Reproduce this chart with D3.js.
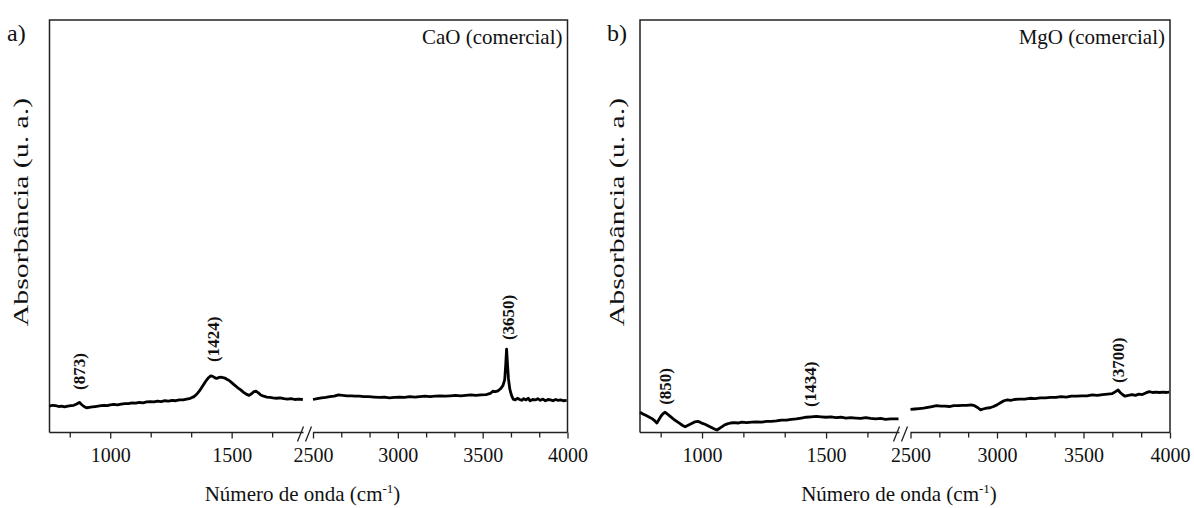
<!DOCTYPE html>
<html>
<head>
<meta charset="utf-8">
<script src="https://cdn.jsdelivr.net/npm/d3@7"></script>
<style>
  body { margin: 0; background: #fff; }
  svg { display: block; font-family: "Liberation Serif", "Times New Roman", serif; }
</style>
</head>
<body>
<div id="chart"></div>
<script>
// wavenumber (cm-1) and absorbance (a.u.)
const caoLowWn = [750, 762, 775, 788, 800, 812, 825, 838, 850, 862, 873, 882, 892, 902, 914, 926, 938, 950, 962, 975, 988, 1000, 1015, 1030, 1045, 1060, 1075, 1090, 1105, 1120, 1135, 1150, 1165, 1180, 1195, 1210, 1225, 1240, 1255, 1270, 1285, 1300, 1315, 1330, 1345, 1358, 1370, 1382, 1394, 1405, 1414, 1422, 1430, 1438, 1446, 1455, 1464, 1472, 1480, 1490, 1500, 1512, 1524, 1536, 1548, 1560, 1572, 1582, 1592, 1601, 1610, 1620, 1632, 1645, 1658, 1670, 1685, 1700, 1715, 1730, 1745, 1760, 1775, 1793];
const caoLowAbs = [0.064, 0.066, 0.065, 0.063, 0.064, 0.062, 0.064, 0.065, 0.066, 0.069, 0.073, 0.068, 0.063, 0.060, 0.061, 0.062, 0.063, 0.064, 0.065, 0.066, 0.065, 0.067, 0.068, 0.067, 0.069, 0.070, 0.070, 0.072, 0.071, 0.073, 0.072, 0.074, 0.075, 0.074, 0.076, 0.075, 0.077, 0.076, 0.078, 0.077, 0.079, 0.079, 0.081, 0.083, 0.087, 0.094, 0.103, 0.114, 0.125, 0.133, 0.137, 0.136, 0.133, 0.131, 0.133, 0.134, 0.133, 0.132, 0.129, 0.126, 0.121, 0.115, 0.109, 0.104, 0.098, 0.093, 0.090, 0.094, 0.099, 0.100, 0.096, 0.091, 0.088, 0.086, 0.085, 0.084, 0.083, 0.084, 0.082, 0.081, 0.082, 0.080, 0.081, 0.080];
const caoHighWn = [2500, 2525, 2550, 2575, 2600, 2625, 2650, 2675, 2700, 2725, 2750, 2775, 2800, 2830, 2860, 2890, 2920, 2950, 2980, 3010, 3040, 3070, 3100, 3130, 3160, 3190, 3220, 3250, 3280, 3310, 3340, 3370, 3400, 3430, 3460, 3490, 3520, 3545, 3560, 3575, 3590, 3605, 3620, 3630, 3636, 3641, 3646, 3652, 3660, 3670, 3680, 3692, 3705, 3718, 3730, 3742, 3755, 3768, 3780, 3795, 3810, 3825, 3840, 3855, 3870, 3885, 3900, 3915, 3930, 3945, 3960, 3975, 3995];
const caoHighAbs = [0.080, 0.082, 0.084, 0.085, 0.087, 0.088, 0.091, 0.090, 0.089, 0.089, 0.088, 0.088, 0.087, 0.087, 0.086, 0.085, 0.086, 0.084, 0.085, 0.086, 0.085, 0.087, 0.086, 0.087, 0.088, 0.087, 0.088, 0.089, 0.088, 0.089, 0.090, 0.089, 0.090, 0.091, 0.090, 0.091, 0.092, 0.095, 0.100, 0.099, 0.101, 0.106, 0.114, 0.128, 0.165, 0.202, 0.168, 0.130, 0.105, 0.090, 0.081, 0.079, 0.083, 0.080, 0.078, 0.082, 0.079, 0.083, 0.077, 0.080, 0.079, 0.082, 0.078, 0.081, 0.077, 0.080, 0.079, 0.077, 0.080, 0.078, 0.079, 0.077, 0.078];

const mgoLowWn = [750, 762, 775, 788, 800, 810, 818, 826, 835, 843, 850, 858, 868, 878, 888, 898, 910, 922, 932, 942, 952, 962, 972, 982, 992, 1002, 1012, 1022, 1032, 1042, 1052, 1060, 1068, 1078, 1090, 1102, 1115, 1130, 1145, 1160, 1180, 1200, 1220, 1240, 1260, 1280, 1300, 1320, 1340, 1360, 1380, 1400, 1420, 1440, 1460, 1480, 1500, 1520, 1540, 1560, 1580, 1600, 1620, 1640, 1660, 1680, 1700, 1720, 1740, 1760, 1792];
const mgoLowAbs = [0.049, 0.045, 0.041, 0.037, 0.033, 0.028, 0.023, 0.031, 0.040, 0.046, 0.049, 0.046, 0.041, 0.036, 0.031, 0.027, 0.022, 0.017, 0.014, 0.017, 0.020, 0.023, 0.026, 0.027, 0.025, 0.022, 0.020, 0.017, 0.014, 0.011, 0.008, 0.006, 0.009, 0.013, 0.018, 0.021, 0.023, 0.024, 0.023, 0.025, 0.024, 0.025, 0.026, 0.025, 0.027, 0.027, 0.028, 0.030, 0.030, 0.032, 0.033, 0.035, 0.037, 0.038, 0.039, 0.038, 0.037, 0.038, 0.036, 0.037, 0.035, 0.036, 0.035, 0.034, 0.036, 0.034, 0.033, 0.034, 0.032, 0.033, 0.033];
const mgoHighWn = [2500, 2525, 2550, 2575, 2600, 2625, 2650, 2675, 2700, 2725, 2750, 2775, 2800, 2825, 2850, 2870, 2890, 2905, 2920, 2940, 2960, 2980, 3000, 3020, 3040, 3060, 3080, 3100, 3130, 3160, 3190, 3220, 3250, 3280, 3310, 3340, 3370, 3400, 3430, 3460, 3490, 3520, 3550, 3580, 3610, 3640, 3665, 3685, 3700, 3712, 3725, 3740, 3760, 3780, 3800, 3820, 3840, 3860, 3880, 3900, 3920, 3940, 3960, 3980, 3995];
const mgoHighAbs = [0.056, 0.057, 0.058, 0.059, 0.061, 0.063, 0.065, 0.064, 0.064, 0.063, 0.065, 0.065, 0.066, 0.066, 0.067, 0.065, 0.060, 0.055, 0.057, 0.059, 0.060, 0.063, 0.067, 0.072, 0.077, 0.079, 0.078, 0.080, 0.081, 0.081, 0.083, 0.082, 0.084, 0.084, 0.085, 0.085, 0.087, 0.086, 0.088, 0.088, 0.089, 0.089, 0.091, 0.090, 0.092, 0.093, 0.094, 0.099, 0.103, 0.097, 0.092, 0.088, 0.090, 0.092, 0.090, 0.093, 0.092, 0.096, 0.099, 0.097, 0.098, 0.097, 0.098, 0.097, 0.098];

const caoPeaks = [873, 1424, 3650];
const caoPeakAbs = [0.103, 0.171, 0.224];
const mgoPeaks = [850, 1434, 3700];
const mgoPeakAbs = [0.067, 0.062, 0.12];

const lowMajor = [1000, 1500];
const lowMinor = [833.33, 1166.67, 1333.33, 1666.67];
const highMajor = [2500, 3000, 3500, 4000];
const highMinor = [2666.67, 2833.33, 3166.67, 3333.33, 3666.67, 3833.33];

const width = 1194;
const height = 508;

const svg = d3.select("#chart")
  .append("svg")
  .attr("width", width)
  .attr("height", height);

const panels = [
  {
    tag: "a)", name: "CaO (comercial)", tagX: 7, titleX: 28,
    left: 49.5, breakL: 304.5, breakR: 313, right: 567.5,
    low: d3.zip(caoLowWn, caoLowAbs), high: d3.zip(caoHighWn, caoHighAbs),
    peaks: caoPeaks, peakAbs: caoPeakAbs
  },
  {
    tag: "b)", name: "MgO (comercial)", tagX: 607, titleX: 624,
    left: 640, breakL: 900.5, breakR: 910.5, right: 1170,
    low: d3.zip(mgoLowWn, mgoLowAbs), high: d3.zip(mgoHighWn, mgoHighAbs),
    peaks: mgoPeaks, peakAbs: mgoPeakAbs
  }
];

const plotTop = 20;
const plotBottom = 432.5;
const y = d3.scaleLinear().domain([0, 1]).range([plotBottom, plotTop]);

panels.forEach((p) => {
  const g = svg.append("g");
  const xLow = d3.scaleLinear().domain([750, 1800]).range([p.left, p.breakL]);
  const xHigh = d3.scaleLinear().domain([2500, 4000]).range([p.breakR, p.right]);

  // frame (left, top, right)
  g.append("path")
    .attr("d", `M${p.left},${plotBottom}V${plotTop}H${p.right}V${plotBottom}`)
    .attr("fill", "none")
    .attr("stroke", "#222")
    .attr("stroke-width", 1.5);

  // broken x axis
  [[xLow, lowMajor, lowMinor, [p.left, p.breakL - 1]], [xHigh, highMajor, highMinor, [p.breakR, p.right]]].forEach(([x, major, minor, span]) => {
    g.append("line")
      .attr("x1", span[0]).attr("x2", span[1])
      .attr("y1", plotBottom).attr("y2", plotBottom)
      .attr("stroke", "#222").attr("stroke-width", 1.5);

    g.append("g")
      .attr("transform", `translate(0,${plotBottom})`)
      .call(d3.axisBottom(x).tickValues(minor).tickSize(5).tickFormat(""))
      .call((a) => a.select(".domain").remove())
      .call((a) => a.selectAll("line").attr("stroke", "#222").attr("stroke-width", 1.3));

    g.append("g")
      .attr("transform", `translate(0,${plotBottom})`)
      .call(d3.axisBottom(x).tickValues(major).tickSize(6).tickPadding(9).tickFormat(d3.format("d")))
      .call((a) => a.select(".domain").remove())
      .call((a) => a.selectAll("line").attr("stroke", "#222").attr("stroke-width", 1.3))
      .call((a) => a.selectAll("text")
        .attr("fill", "#111")
        .style("font-family", "'Liberation Serif', serif")
        .style("font-size", "20px"));
  });

  // break marks
  [p.breakL - 4, p.breakL + 4].forEach((bx) => {
    g.append("line")
      .attr("x1", bx - 3).attr("y1", plotBottom + 9)
      .attr("x2", bx + 3).attr("y2", plotBottom - 6)
      .attr("stroke", "#222").attr("stroke-width", 1.3);
  });

  // spectrum segments
  const lineLow = d3.line().x((d) => xLow(d[0])).y((d) => y(d[1]));
  const lineHigh = d3.line().x((d) => xHigh(d[0])).y((d) => y(d[1]));
  g.append("path").datum(p.low).attr("d", lineLow)
    .attr("fill", "none").attr("stroke", "#000").attr("stroke-width", 2.8).attr("stroke-linejoin", "round");
  g.append("path").datum(p.high).attr("d", lineHigh)
    .attr("fill", "none").attr("stroke", "#000").attr("stroke-width", 2.8).attr("stroke-linejoin", "round");

  // peak labels (rotated)
  p.peaks.forEach((wn, i) => {
    const px = wn < 2000 ? xLow(wn) : xHigh(wn);
    const py = y(p.peakAbs[i]);
    g.append("text")
      .attr("transform", `translate(${px + 6},${py}) rotate(-90)`)
      .attr("font-size", 17)
      .attr("font-weight", 700)
      .attr("fill", "#111")
      .text(`(${wn})`);
  });

  // panel tag and sample name
  g.append("text")
    .attr("x", p.tagX).attr("y", 41)
    .attr("font-size", 24).attr("fill", "#111")
    .text(p.tag);
  g.append("text")
    .attr("x", p.right - 5).attr("y", 44)
    .attr("text-anchor", "end")
    .attr("font-size", 21).attr("fill", "#111")
    .text(p.name);

  // axis titles (y title is stretched along its length, as in the figure)
  g.append("text")
    .attr("transform", `translate(${p.titleX},212) rotate(-90) scale(1.42,1)`)
    .attr("text-anchor", "middle")
    .attr("font-size", 21).attr("fill", "#111")
    .text("Absorbância (u. a.)");

  const xt = g.append("text")
    .attr("x", (p.left + p.right) / 2 - 6)
    .attr("y", 501)
    .attr("text-anchor", "middle")
    .attr("font-size", 21).attr("fill", "#111");
  xt.append("tspan").text("Número de onda (cm");
  xt.append("tspan").attr("font-size", 13).attr("dy", -8).text("-1");
  xt.append("tspan").attr("dy", 8).text(")");
});
</script>
</body>
</html>
